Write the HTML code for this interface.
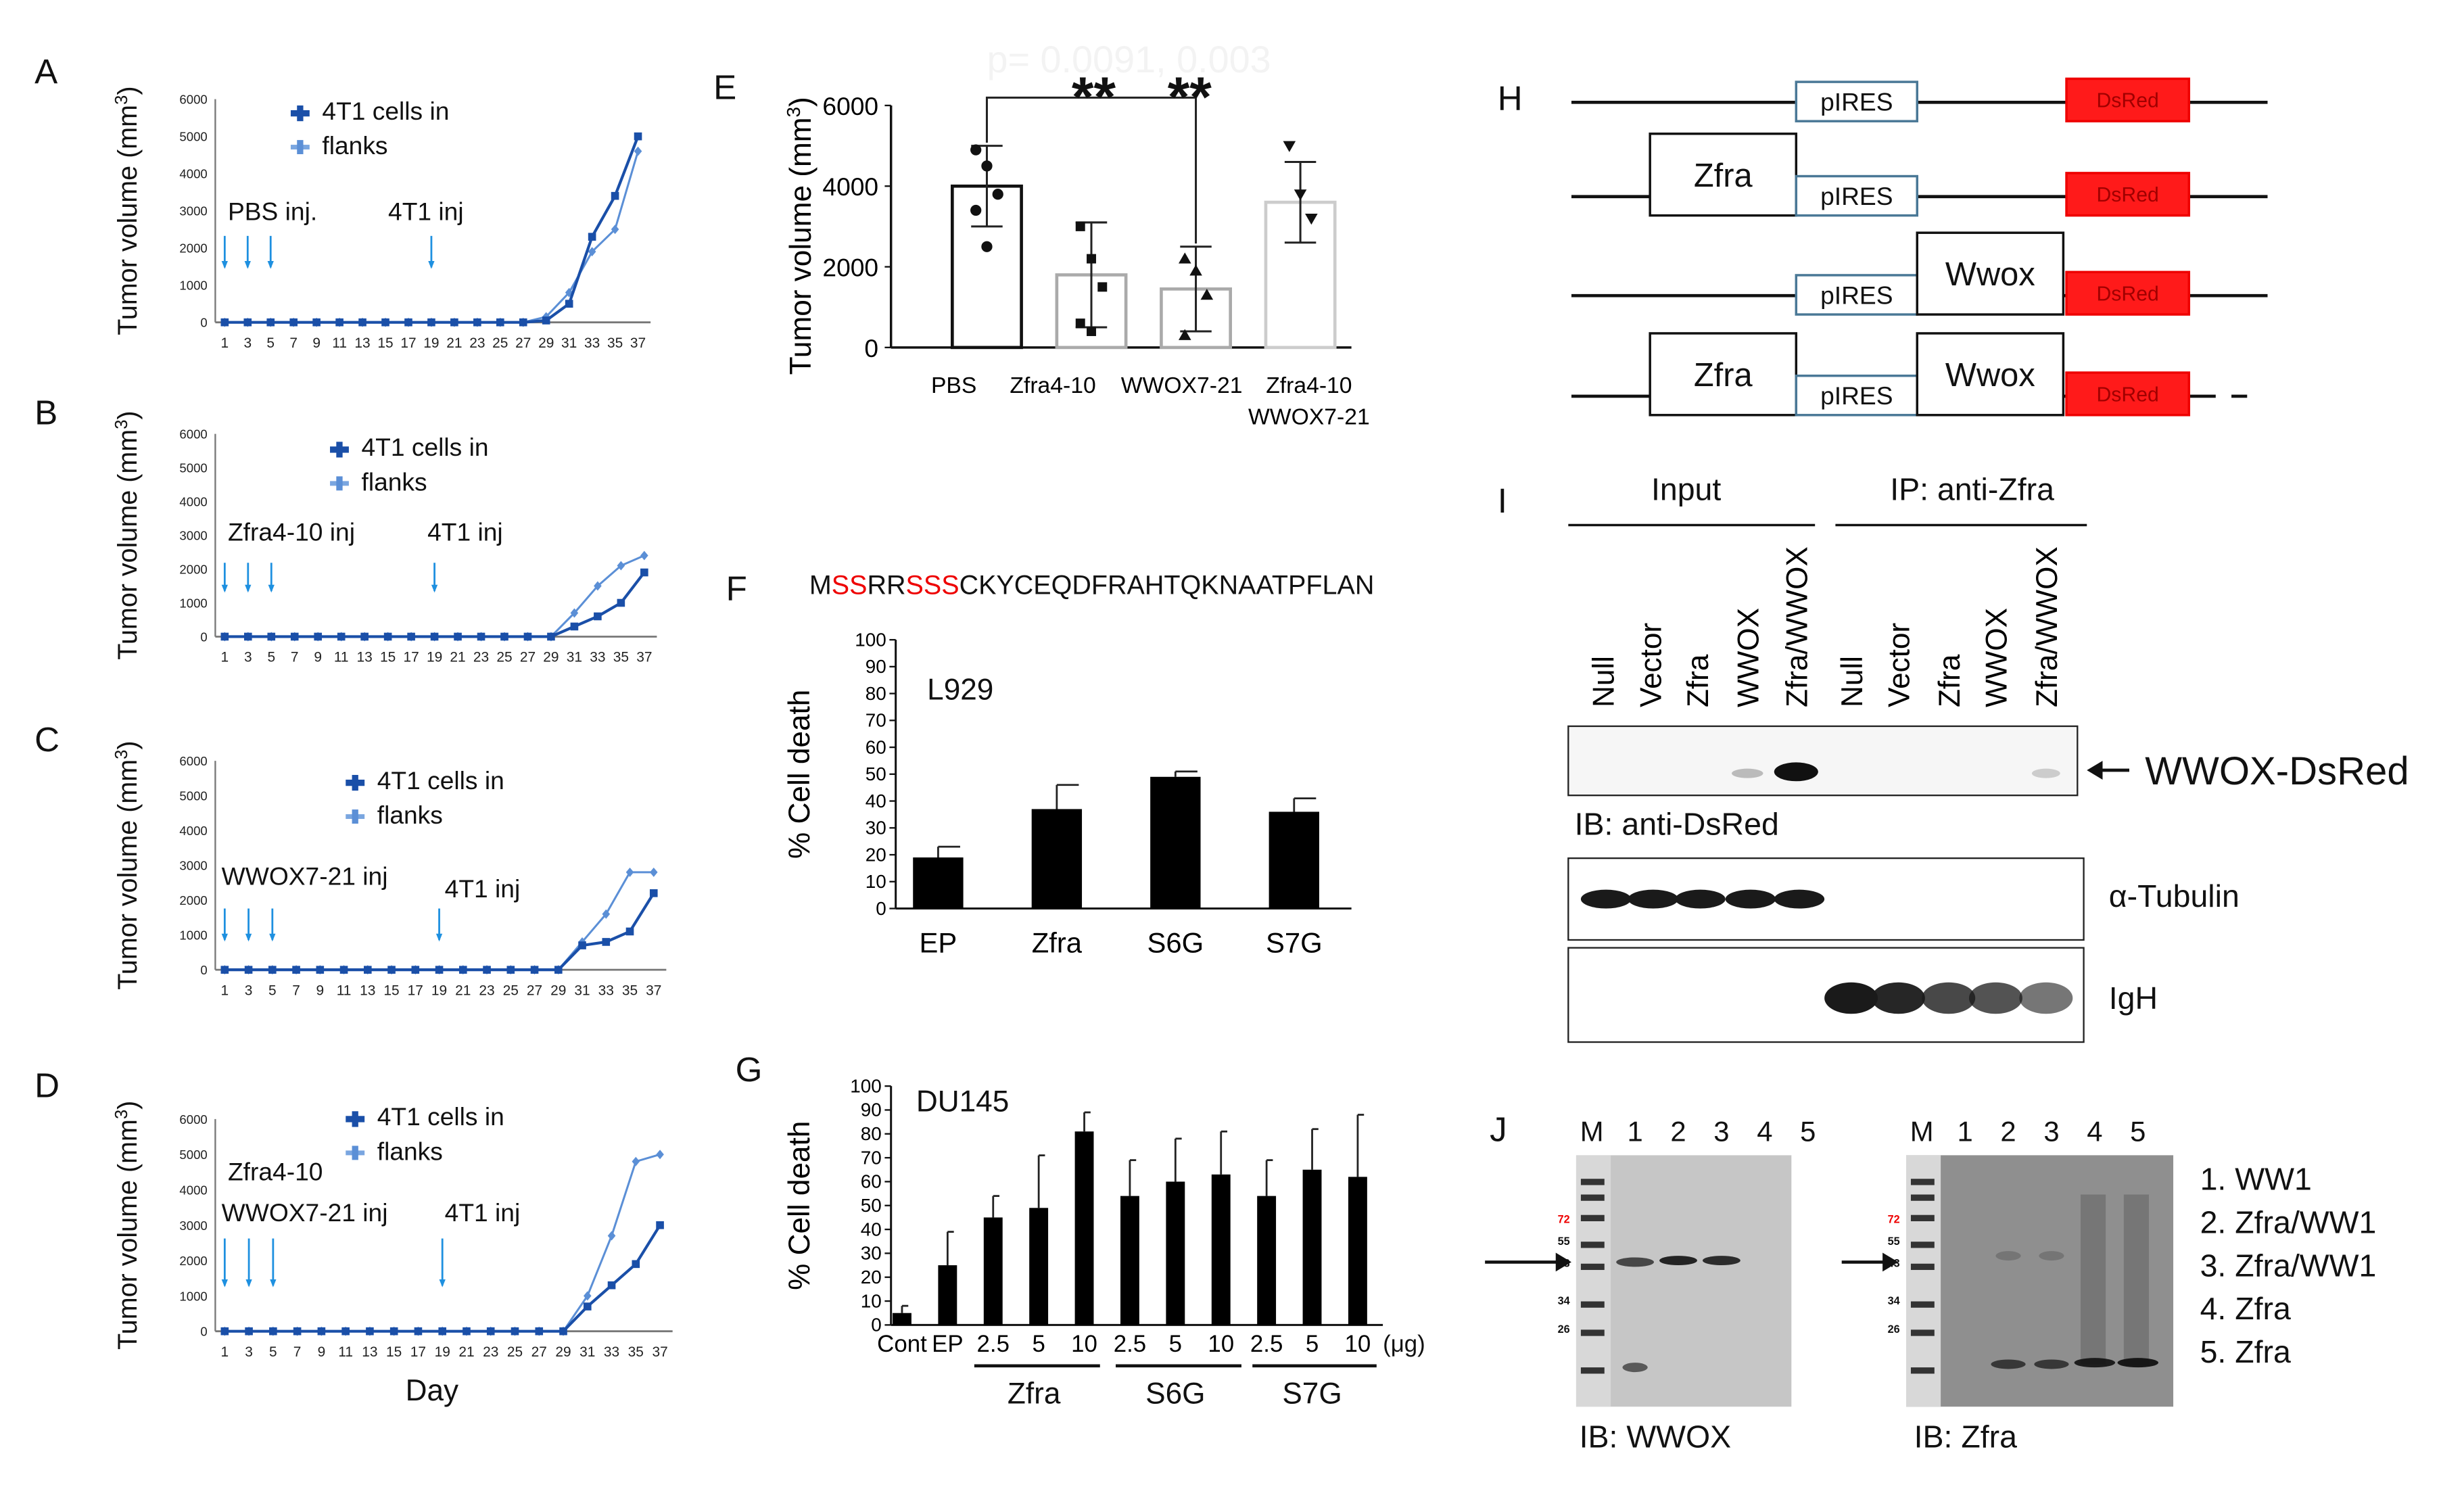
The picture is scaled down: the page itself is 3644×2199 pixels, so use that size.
<!DOCTYPE html>
<html><head><meta charset="utf-8"><style>
html,body{margin:0;padding:0;background:#fff}
svg{display:block;font-family:"Liberation Sans",Arial,sans-serif}
</style></head><body>
<svg id="fig" width="3644" height="2199" viewBox="0 0 1568 946" xmlns="http://www.w3.org/2000/svg">
<rect width="1568" height="946" fill="#fff"/>
<g id="lines"></g>
<g id="bars"></g>
<g id="static"></g>
</svg>
<script>
// ---------- data ----------
const days = [1,3,5,7,9,11,13,15,17,19,21,23,25,27,29,31,33,35,37];
const volTicks = [0,1000,2000,3000,4000,5000,6000];
const aDark  = [0,0,0,0,0,0,0,0,0,0,0,0,0,0,50,500,2300,3400,5000];
const aLight = [0,0,0,0,0,0,0,0,0,0,0,0,0,0,150,800,1900,2500,4600];
const bDark  = [0,0,0,0,0,0,0,0,0,0,0,0,0,0,0,300,600,1000,1900];
const bLight = [0,0,0,0,0,0,0,0,0,0,0,0,0,0,0,700,1500,2100,2400];
const cDark  = [0,0,0,0,0,0,0,0,0,0,0,0,0,0,0,700,800,1100,2200];
const cLight = [0,0,0,0,0,0,0,0,0,0,0,0,0,0,0,800,1600,2800,2800];
const dDark  = [0,0,0,0,0,0,0,0,0,0,0,0,0,0,0,700,1300,1900,3000];
const dLight = [0,0,0,0,0,0,0,0,0,0,0,0,0,0,0,1000,2700,4800,5000];

const eCats = ["PBS","Zfra4-10","WWOX7-21","Zfra4-10|WWOX7-21"];
const eMeans = [4000,1800,1450,3600];
const eSD = [1000,1300,1050,1000];
const ePoints = [[4900,4500,3800,3400,2500],[3000,2200,1500,600,400],[2200,1900,1300,300],[5000,3800,3200]];
const eTicks = [0,2000,4000,6000];

const fCats = ["EP","Zfra","S6G","S7G"];
const fVals = [19,37,49,36];
const fErr = [4,9,2,5];
const pctTicks = [0,10,20,30,40,50,60,70,80,90,100];

const gCats = ["Cont","EP","2.5","5","10","2.5","5","10","2.5","5","10"];
const gVals = [5,25,45,49,81,54,60,63,54,65,62];
const gErr  = [3,14,9,22,8,15,18,18,15,17,26];
</script>
<script>
const NS="http://www.w3.org/2000/svg";
function mk(tag,attrs,parent,text){const e=document.createElementNS(NS,tag);for(const k in attrs)e.setAttribute(k,attrs[k]);if(text!==undefined)e.textContent=text;(parent||document.getElementById('static')).appendChild(e);return e;}
const ST=document.getElementById('static');
function txt(x,y,s,size,opt){opt=opt||{};const t=mk('text',Object.assign({x:x,y:y,'font-size':size,fill:opt.fill||'#111'},opt.a||{}),ST,s);return t;}

// ---------- line panels A-D ----------
function linePanel(cfg){
  const g=mk('g',{},document.getElementById('lines'));
  
  
  const x0=137,x1=cfg.xr,top=cfg.top,bot=cfg.bot;
  const xs=d=>143+(d-1)*(x1-143)/36;
  const ys=v=>bot-v*(bot-top)/6000;
  mk('line',{x1:x0,y1:top,x2:x0,y2:bot,stroke:'#777','stroke-width':1},g);
  mk('line',{x1:x0,y1:bot,x2:x1+8,y2:bot,stroke:'#777','stroke-width':1.2},g);
  volTicks.forEach(v=>{const t=mk('text',{x:x0-5,y:ys(v)+3,'font-size':8,'text-anchor':'end',fill:'#222'},g,v);});
  days.forEach(d=>{const t=mk('text',{x:xs(d),y:bot+16,'font-size':9,'text-anchor':'middle',fill:'#222'},g,d);});
  [[cfg.light,'#5b8fd6',1.3,'diamond'],[cfg.dark,'#1a4fa8',1.8,'square']].forEach(([arr,col,w,m])=>{
    const pts=arr.map((v,i)=>xs(days[i])+','+ys(v)).join(' ');
    const p=mk('polyline',{points:pts,fill:'none',stroke:col,'stroke-width':w},g);
    
    arr.forEach((v,i)=>{let e;
      if(m==='square') e=mk('rect',{x:xs(days[i])-2.5,y:ys(v)-2.5,width:5,height:5,fill:col},g);
      else e=mk('polygon',{points:`${xs(days[i])},${ys(v)-3} ${xs(days[i])+2.5},${ys(v)} ${xs(days[i])},${ys(v)+3} ${xs(days[i])-2.5},${ys(v)}`,fill:col},g);
      });
  });
  const lx=cfg.lx,ly=cfg.ly;
  mk('rect',{x:lx-8,y:ly-6,width:12,height:4,fill:'#1a4fa8'},g);mk('rect',{x:lx-4,y:ly-9,width:4,height:10,fill:'#1a4fa8'},g);
  mk('rect',{x:lx-8,y:ly+16,width:12,height:3,fill:'#7aa6e0'},g);mk('rect',{x:lx-4,y:ly+13,width:4,height:9,fill:'#5b8fd6'},g);
  const l1=mk('text',{x:lx+12,y:ly,'font-size':16,fill:'#111'},g,'4T1 cells in');
  const l2=mk('text',{x:lx+12,y:ly+22,'font-size':16,fill:'#111'},g,'flanks');
  cfg.arrows.forEach(d=>{const ax=xs(d);mk('line',{x1:ax,y1:cfg.ay0,x2:ax,y2:cfg.ay1,stroke:'#1e90e0','stroke-width':1.2},g);mk('polygon',{points:`${ax-2},${cfg.ay1-4} ${ax+2},${cfg.ay1-4} ${ax},${cfg.ay1+1}`,fill:'#1e90e0'},g);});
  cfg.texts.forEach(([x,y,s])=>{const t=mk('text',{x:x,y:y,'font-size':16,fill:'#111'},g,s);});
  const yt=mk('text',{x:0,y:0,'font-size':17,'text-anchor':'middle',fill:'#111',transform:`translate(87,${(top+bot)/2}) rotate(-90)`},g);
  yt.innerHTML='Tumor volume (mm<tspan dy="-6" font-size="11">3</tspan><tspan dy="6">)</tspan>';
  
  const L=mk('text',{x:22,y:cfg.labY,'font-size':22,fill:'#111'},g,cfg.id);
}
linePanel({id:'A',top:63,bot:205,xr:406,dark:aDark,light:aLight,lx:193,ly:76,arrows:[1,3,5,19],ay0:150,ay1:170,texts:[[145,140,'PBS inj.'],[247,140,'4T1 inj']],labY:53});
linePanel({id:'B',top:276,bot:405,xr:410,dark:bDark,light:bLight,lx:218,ly:290,arrows:[1,3,5,19],ay0:358,ay1:376,texts:[[145,344,'Zfra4-10 inj'],[272,344,'4T1 inj']],labY:270});
linePanel({id:'C',top:484,bot:617,xr:416,dark:cDark,light:cLight,lx:228,ly:502,arrows:[1,3,5,19],ay0:578,ay1:598,texts:[[141,563,'WWOX7-21 inj'],[283,571,'4T1 inj']],labY:478});
linePanel({id:'D',top:712,bot:847,xr:420,dark:dDark,light:dLight,lx:228,ly:716,arrows:[1,3,5,19],ay0:788,ay1:818,texts:[[145,751,'Zfra4-10'],[141,777,'WWOX7-21 inj'],[283,777,'4T1 inj']],labY:698});
txt(258,891,'Day',19,{name:'x-axis-title'});

// ---------- E ----------
(function(){
  const g=document.getElementById('bars');
  const top=67,bot=221,x0=567;
  const ys=v=>bot-v*(bot-top)/6000;
  const xc=i=>628+i*66.5;
  const strokes=['#111','#aaa','#aaa','#ccc'];
  mk('line',{x1:x0,y1:top,x2:x0,y2:bot,stroke:'#111','stroke-width':1.5},g);
  mk('line',{x1:x0,y1:bot,x2:860,y2:bot,stroke:'#111','stroke-width':1.5},g);
  eTicks.forEach(v=>{mk('line',{x1:x0-4,y1:ys(v),x2:x0,y2:ys(v),stroke:'#111'},g);const t=mk('text',{x:x0-8,y:ys(v)+6,'font-size':16,'text-anchor':'end'},g,v);});
  eMeans.forEach((v,i)=>{const r=mk('rect',{x:xc(i)-22,y:ys(v),width:44,height:bot-ys(v),fill:'#fff',stroke:strokes[i],'stroke-width':2},g);
    const c=xc(i);mk('line',{x1:c,y1:ys(v+eSD[i]),x2:c,y2:ys(v-eSD[i]),stroke:'#222','stroke-width':1.3},g);
    [v+eSD[i],v-eSD[i]].forEach(w=>mk('line',{x1:c-10,y1:ys(w),x2:c+10,y2:ys(w),stroke:'#222','stroke-width':1.3},g));
    ePoints[i].forEach((p,j)=>{const px=c+((j%3)-1)*7;let e;
      if(i===0)e=mk('circle',{cx:px,cy:ys(p),r:3.5,fill:'#111'},g);
      else if(i===1)e=mk('rect',{x:px-3,y:ys(p)-3,width:6,height:6,fill:'#111'},g);
      else if(i===2)e=mk('polygon',{points:`${px},${ys(p)-4} ${px+4},${ys(p)+3} ${px-4},${ys(p)+3}`,fill:'#111'},g);
      else e=mk('polygon',{points:`${px-4},${ys(p)-3} ${px+4},${ys(p)-3} ${px},${ys(p)+4}`,fill:'#111'},g);
      });
    const lxs=[607,670,752,833];
    const parts=eCats[i].split('|');parts.forEach((s,k)=>{const t=mk('text',{x:lxs[i],y:250+k*20,'font-size':14.5,'text-anchor':'middle'},g,s);});
  });
  mk('path',{d:`M${xc(0)},${ys(eMeans[0]+eSD[0])-2} V62 H${xc(2)} V${ys(eMeans[2]+eSD[2])-2}`,fill:'none',stroke:'#222','stroke-width':1.3},g);
  txt(628,46,'p= 0.0091, 0.003',24,{fill:'#f3f3f3',name:'p-value'});
  txt(696,74,'**',36,{a:{'text-anchor':'middle','font-weight':'bold'},name:'significance'});
  txt(757,74,'**',36,{a:{'text-anchor':'middle','font-weight':'bold'},name:'significance'});
  const yt=mk('text',{x:0,y:0,'font-size':19,'text-anchor':'middle',transform:`translate(516,150) rotate(-90)`},g);
  yt.innerHTML='Tumor volume (mm<tspan dy="-7" font-size="12">3</tspan><tspan dy="7">)</tspan>';
  txt(454,63,'E',22,{name:'panel-label'});
})();

// ---------- F & G ----------
function pctPanel(cfg){
  const g=document.getElementById('bars');
  const ys=v=>cfg.bot-v*(cfg.bot-cfg.top)/100;
  mk('line',{x1:cfg.x0,y1:cfg.top,x2:cfg.x0,y2:cfg.bot,stroke:'#111','stroke-width':1.3},g);
  mk('line',{x1:cfg.x0,y1:cfg.bot,x2:cfg.xr,y2:cfg.bot,stroke:'#111','stroke-width':1.3},g);
  pctTicks.forEach(v=>{mk('line',{x1:cfg.x0-4,y1:ys(v),x2:cfg.x0,y2:ys(v),stroke:'#111'},g);const t=mk('text',{x:cfg.x0-6,y:ys(v)+4,'font-size':12,'text-anchor':'end'},g,v);});
  cfg.vals.forEach((v,i)=>{const c=cfg.xc(i);
    mk('line',{x1:c,y1:ys(v),x2:c,y2:ys(v+cfg.err[i]),stroke:'#222','stroke-width':1.2},g);
    mk('line',{x1:c,y1:ys(v+cfg.err[i]),x2:c+cfg.bw/2-2,y2:ys(v+cfg.err[i]),stroke:'#222','stroke-width':1.2},g);
    const r=mk('rect',{x:c-cfg.bw/2,y:ys(v),width:cfg.bw,height:cfg.bot-ys(v),fill:'#000'},g);
    const t=mk('text',{x:c,y:cfg.bot+cfg.ly,'font-size':cfg.fs,'text-anchor':'middle'},g,cfg.cats[i]);});
  const yt=mk('text',{x:0,y:0,'font-size':19,'text-anchor':'middle',transform:`translate(515,${(cfg.top+cfg.bot)/2}) rotate(-90)`},g,'% Cell death');
}
pctPanel({top:407,bot:578,x0:570,xr:860,vals:fVals,err:fErr,cats:fCats,xc:i=>597+i*75.5,bw:32,ly:28,fs:18});
txt(590,445,'L929',19,{name:'cell-line'});txt(462,382,'F',22,{name:'panel-label'});
const seq=txt(515,378,'',17,{name:'peptide-sequence'});
seq.innerHTML='M<tspan fill="#e00">SS</tspan>RR<tspan fill="#e00">SSS</tspan>CKYCEQDFRAHTQKNAATPFLAN';
pctPanel({top:691,bot:843,x0:567,xr:880,vals:gVals,err:gErr,cats:gCats,xc:i=>574+i*29,bw:12,ly:17,fs:15});
txt(583,707,'DU145',19,{name:'cell-line'});txt(468,688,'G',22,{name:'panel-label'});
txt(880,860,'(μg)',15,{name:'unit-label'});
[[620,700,'Zfra',658],[710,790,'S6G',748],[797,876,'S7G',835]].forEach(([a,b,s,c])=>{mk('line',{x1:a,y1:869,x2:b,y2:869,stroke:'#111','stroke-width':2});txt(c,893,s,19,{a:{'text-anchor':'middle'},name:'group-label'});});

// ---------- H ----------
txt(953,70,'H',22,{name:'panel-label'});
function box(x,y,w,h,label,sz,col,stroke,fill){mk('rect',{x:x,y:y,width:w,height:h,fill:fill||'#fff',stroke:stroke||'#111','stroke-width':1.5});txt(x+w/2,y+h/2+sz*0.36,label,sz,{fill:col||'#111',a:{'text-anchor':'middle'},name:'construct-box'});}
[[65,0,0],[125,1,0],[188,0,1],[252,1,1]].forEach(([y,z,w])=>{
  mk('line',{x1:1000,y1:y,x2:y===252?1410:1443,y2:y,stroke:'#111','stroke-width':2});
  if(y===252)mk('line',{x1:1420,y1:y,x2:1430,y2:y,stroke:'#111','stroke-width':2});
  if(z)box(1050,y-40,93,52,'Zfra',21);
  box(1143,y-13,77,25,'pIRES',16,'#111','#4a7896');
  if(w)box(1220,y-40,93,52,'Wwox',21);
  box(1315,y-15,78,27,'DsRed',13,'#a00000','#e00','#ff1a1a');
});

// ---------- I ----------
txt(953,326,'I',22,{name:'panel-label'});
txt(1073,318,'Input',20,{a:{'text-anchor':'middle'},name:'group-label'});
txt(1255,318,'IP: anti-Zfra',20,{a:{'text-anchor':'middle'},name:'group-label'});
mk('line',{x1:998,y1:334,x2:1155,y2:334,stroke:'#111','stroke-width':1.5});
mk('line',{x1:1168,y1:334,x2:1328,y2:334,stroke:'#111','stroke-width':1.5});
const lanes=['Null','Vector','Zfra','WWOX','Zfra/WWOX','Null','Vector','Zfra','WWOX','Zfra/WWOX'];
const laneX=[1020,1050,1080,1112,1143,1178,1208,1240,1270,1302];
lanes.forEach((s,i)=>{const t=mk('text',{x:0,y:0,'font-size':19,transform:`translate(${laneX[i]+7},450) rotate(-90)`},ST,s);});
mk('rect',{x:998,y:462,width:324,height:44,fill:'#f6f6f6',stroke:'#222','stroke-width':1});
mk('ellipse',{cx:1112,cy:492,rx:10,ry:3,fill:'#bbb'});mk('ellipse',{cx:1143,cy:491,rx:14,ry:6,fill:'#111'});mk('ellipse',{cx:1302,cy:492,rx:9,ry:3,fill:'#ccc'});
mk('line',{x1:1332,y1:490,x2:1355,y2:490,stroke:'#111','stroke-width':2});mk('polygon',{points:'1328,490 1338,484 1338,496',fill:'#111'});
txt(1365,499,'WWOX-DsRed',25,{name:'band-label'});
txt(1002,531,'IB: anti-DsRed',20,{name:'blot-label'});
mk('rect',{x:998,y:546,width:328,height:52,fill:'#fff',stroke:'#222','stroke-width':1});
laneX.slice(0,5).forEach(x=>mk('ellipse',{cx:x+2,cy:572,rx:16,ry:6,fill:'#1a1a1a'}));
txt(1342,577,'α-Tubulin',20,{name:'blot-label'});
mk('rect',{x:998,y:603,width:328,height:60,fill:'#fff',stroke:'#222','stroke-width':1});
[1,0.95,0.8,0.75,0.6].forEach((o,i)=>mk('ellipse',{cx:laneX[i+5],cy:635,rx:17,ry:10,fill:'#1a1a1a','fill-opacity':o}));
txt(1342,642,'IgH',20,{name:'blot-label'});

// ---------- J ----------
txt(948,726,'J',22,{name:'panel-label'});
function blot(x0,w,bg,mlab,bands,smear){
  mk('rect',{x:x0,y:735,width:w,height:160,fill:bg});
  mk('rect',{x:x0,y:735,width:22,height:160,fill:'#d8d8d8'});
  [752,762,775,792,806,830,848,872].forEach(y=>mk('rect',{x:x0+3,y:y-2,width:15,height:4,fill:'#333'}));
  mlab.forEach((s,i)=>txt(x0+10+i*27.5,726,s,18,{a:{'text-anchor':'middle'},name:'lane-label'}));
  smear.forEach(i=>mk('rect',{x:x0+i*27.5+1,y:760,width:16,height:108,fill:'#222','fill-opacity':0.22}));
  bands.forEach(([i,y,o,rw])=>mk('ellipse',{cx:x0+10+i*27.5,cy:y,rx:rw,ry:3,fill:'#111','fill-opacity':o}));
  [['72',778,'#e00'],['55',792,'#111'],['43',806,'#111'],['34',830,'#111'],['26',848,'#111']].forEach(([s,y,c])=>txt(x0-4,y,s,7,{fill:c,a:{'text-anchor':'end','font-weight':'bold'},name:'marker-size'}));
}
blot(1003,137,'#c6c6c6',['M','1','2','3','4','5'],[[1,803,0.7,12],[2,802,0.9,12],[3,802,0.85,12],[1,870,0.6,8]],[]);
blot(1213,170,'#8f8f8f',['M','1','2','3','4','5'],[[2,799,0.2,8],[3,799,0.2,8],[2,868,0.7,11],[3,868,0.7,11],[4,867,0.9,13],[5,867,0.95,13]],[4,5]);
[[945,1000],[1172,1208]].forEach(([a,b])=>{mk('line',{x1:a,y1:803,x2:b-8,y2:803,stroke:'#111','stroke-width':2});mk('polygon',{points:`${b},803 ${b-10},797 ${b-10},809`,fill:'#111'});});
txt(1005,921,'IB: WWOX',20,{name:'blot-label'});txt(1218,921,'IB: Zfra',20,{name:'blot-label'});
['1. WW1','2. Zfra/WW1','3. Zfra/WW1','4. Zfra','5. Zfra'].forEach((s,i)=>txt(1400,757+i*27.5,s,20,{name:'legend-entry'}));
</script>
</body></html>
